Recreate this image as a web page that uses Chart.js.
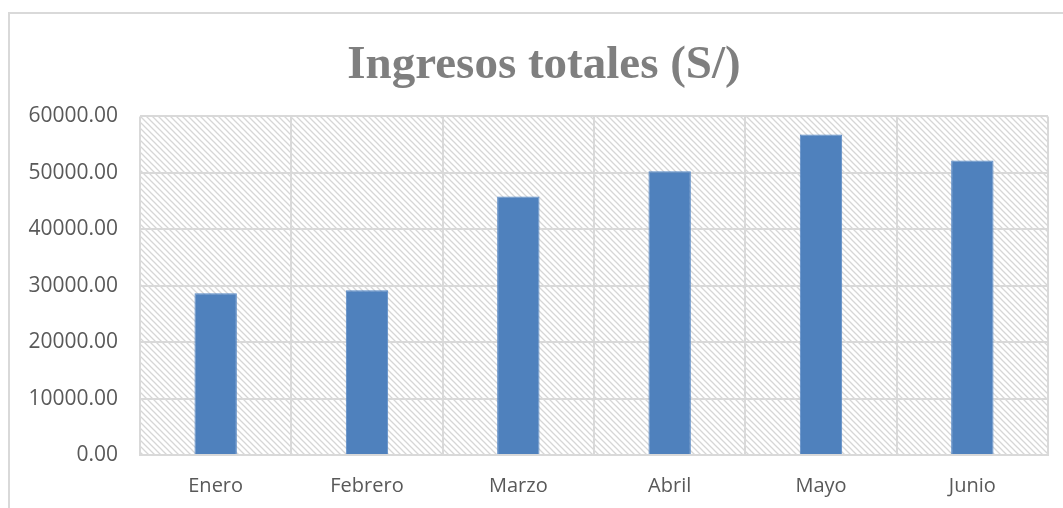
<!DOCTYPE html>
<html>
<head>
<meta charset="utf-8">
<script src="https://cdn.jsdelivr.net/npm/chart.js@4"></script>
<style>
  body { margin: 0; background: #fff; overflow: hidden; }
  #frame { position: absolute; left: 8px; top: 12px; width: 1080px; height: 520px; border: 2px solid #d9d9d9; }
  #wrap { position: absolute; left: 0; top: 0; width: 1063px; height: 508px; }
</style>
</head>
<body>
<div id="frame"></div>
<div id="wrap"><canvas id="ingresosChart" width="1063" height="508"></canvas></div>
<script>
const meses = ['Enero', 'Febrero', 'Marzo', 'Abril', 'Mayo', 'Junio'];
const ingresos = [28650, 29200, 45800, 50300, 56800, 52200];
const yMin = 0;
const yMax = 60000;
const yPaso = 10000;

// trama diagonal del area de trazado
function crearTrama() {
  const c = document.createElement('canvas');
  c.width = 6;
  c.height = 6;
  const g = c.getContext('2d');
  g.fillStyle = '#ffffff';
  g.fillRect(0, 0, 6, 6);
  g.strokeStyle = '#d6d6d6';
  g.lineWidth = 1.3;
  g.beginPath();
  g.moveTo(-1, -1); g.lineTo(7, 7);
  g.moveTo(-7, -1); g.lineTo(1, 7);
  g.moveTo(5, -1); g.lineTo(13, 7);
  g.stroke();
  return g.createPattern(c, 'repeat');
}

const fondoTrama = {
  id: 'fondoTrama',
  afterLayout(chart) {
    // el titulo del original esta centrado en el marco, no en el canvas
    if (chart.titleBlock) {
      chart.titleBlock.left += 20;
      chart.titleBlock.right += 20;
    }
  },
  beforeDraw(chart) {
    const { ctx, chartArea: a } = chart;
    ctx.save();
    ctx.fillStyle = crearTrama();
    ctx.fillRect(a.left, a.top, a.right - a.left, a.bottom - a.top);
    ctx.restore();
  }
};

const ctx = document.getElementById('ingresosChart').getContext('2d');
new Chart(ctx, {
  type: 'bar',
  data: {
    labels: meses,
    datasets: [{
      label: 'Ingresos',
      data: ingresos,
      backgroundColor: '#4F81BD',
      borderColor: '#5A8AC6',
      borderWidth: 1,
      categoryPercentage: 1,
      barPercentage: 0.28
    }]
  },
  options: {
    responsive: false,
    animation: false,
    layout: { padding: { left: 0, right: 15, top: 0, bottom: 0 } },
    plugins: {
      legend: { display: false },
      tooltip: { enabled: false },
      title: {
        display: true,
        text: 'Ingresos totales (S/)',
        color: '#7f7f7f',
        font: { family: 'Liberation Serif', size: 47, weight: 'bold', lineHeight: 1.2 },
        padding: { top: 38, bottom: 22 }
      }
    },
    scales: {
      x: {
        grid: { color: '#d9d9d9', lineWidth: 2, offset: true, drawTicks: false },
        border: { color: '#d9d9d9', width: 2 },
        ticks: { color: '#595959', font: { family: 'Open Sans', size: 20 }, padding: 19 },
        afterFit: s => { s.height = 53; }
      },
      y: {
        min: yMin,
        max: yMax,
        grid: { color: '#d9d9d9', lineWidth: 2, drawTicks: false },
        border: { display: false },
        ticks: {
          stepSize: yPaso,
          color: '#595959',
          font: { family: 'Open Sans', size: 21 },
          padding: 22,
          callback: v => Number(v).toFixed(2)
        },
        afterFit: s => { s.width = 140; }
      }
    }
  },
  plugins: [fondoTrama]
});
</script>
</body>
</html>
